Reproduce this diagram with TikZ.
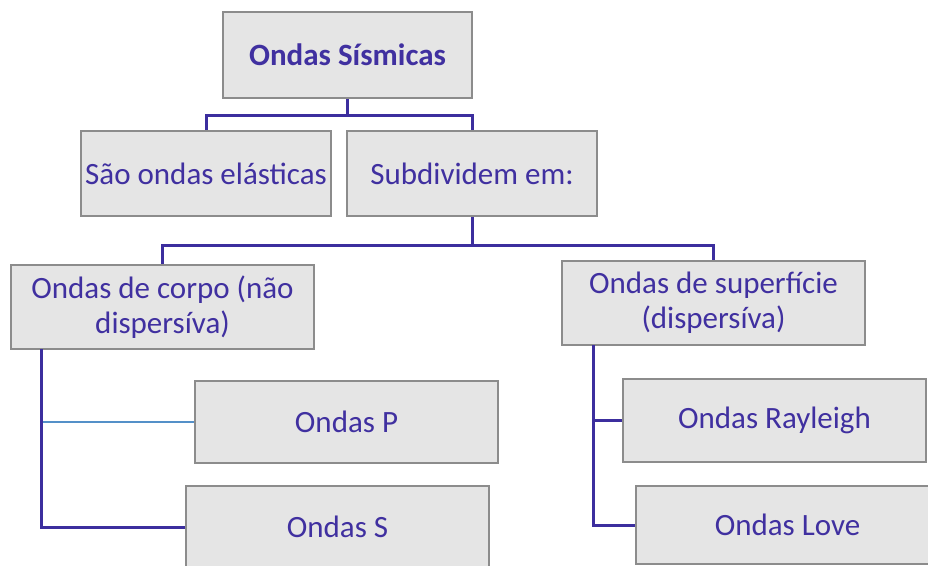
\documentclass[tikz,border=0pt]{standalone}
\usepackage{fontspec}
\setmainfont{Carlito}
\definecolor{txt}{RGB}{64,48,160}
\definecolor{ln}{RGB}{60,46,158}
\definecolor{lb}{RGB}{84,144,200}
\definecolor{bx}{RGB}{229,229,229}
\definecolor{bd}{RGB}{140,140,140}
\tikzset{
  box/.style={draw=bd, fill=bx, line width=1.6pt, inner sep=0pt, align=center,
    text=txt, font=\fontsize{31}{35}\selectfont},
  conn/.style={draw=ln, line width=3pt},
  connb/.style={draw=lb, line width=2.4pt}
}
\begin{document}
\begin{tikzpicture}[x=1pt,y=-1pt]
\useasboundingbox (0,0) rectangle (928,565);
\clip (0,0) rectangle (928,565);
\fill[white] (0,0) rectangle (928,565);
% nodes
\node[box, minimum width=249pt, minimum height=86pt, font=\fontsize{31}{35}\selectfont\bfseries] (top) at (347.5,55) {Ondas Sísmicas};
\node[box, minimum width=250pt, minimum height=85pt] (sao) at (206,173.5) {São ondas elásticas};
\node[box, minimum width=250pt, minimum height=85pt] (sub) at (472,173.5) {Subdividem em:};
\node[box, minimum width=303pt, minimum height=84pt] (corpo) at (162.5,307) {Ondas de corpo (não\\dispersíva)};
\node[box, minimum width=303pt, minimum height=84pt] (sup) at (713.5,303) {Ondas de superfície\\(dispersíva)};
\node[box, minimum width=303pt, minimum height=82pt] (p) at (346.5,422) {Ondas P};
\node[box, minimum width=303pt, minimum height=82pt] (s) at (337.5,527) {Ondas S};
\node[box, minimum width=303pt, minimum height=83pt] (ray) at (774.5,420.5) {Ondas Rayleigh};
\node[box, minimum width=303pt, minimum height=78pt] (love) at (787.5,525) {Ondas Love};
% connectors
\coordinate (j1) at (347.5,115);
\coordinate (j2) at (472,245);
\coordinate (cl) at (41,349);
\coordinate (cr) at (593,345);
\draw[conn] (top.south) -- (j1) -| (sao.north);
\draw[conn] (j1) -| (sub.north);
\draw[conn] (sub.south) -- (j2) -| (corpo.north);
\draw[conn] (j2) -| (sup.north);
\draw[connb] (cl |- p.west) -- (p.west);
\draw[conn] (cl) |- (s.west);
\draw[conn] (cr) |- (love.west);
\draw[conn] (cr |- ray.west) -- (ray.west);
\end{tikzpicture}
\end{document}
